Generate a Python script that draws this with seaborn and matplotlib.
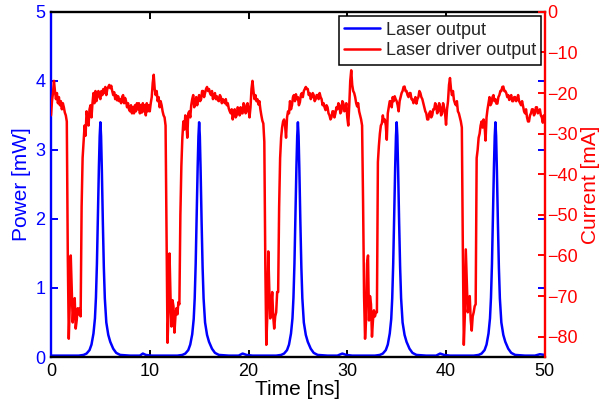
import numpy as np
import matplotlib
matplotlib.use('Agg')
import matplotlib.pyplot as plt
import seaborn as sns

# laser output pulses (time in ns, power in mW)
t_laser = [0.0, 1.0, 2.0, 2.8, 3.3, 3.6, 3.9, 4.1, 4.3, 4.45, 4.55, 4.65, 4.75, 4.85, 4.93,
           5.0, 5.07, 5.15, 5.25, 5.35, 5.45, 5.6, 5.8, 6.0, 6.3, 6.6, 7.0, 8.0, 9.0, 9.3, 9.6, 10.2,
           11.0, 12.0, 12.8, 13.3, 13.6, 13.9, 14.1, 14.3, 14.45, 14.55, 14.65, 14.75, 14.85, 14.93,
           15.0, 15.07, 15.15, 15.25, 15.35, 15.45, 15.6, 15.8, 16.0, 16.3, 16.6, 17.0, 18.0, 19.0, 19.4, 19.8, 20.4,
           21.0, 22.0, 22.8, 23.3, 23.6, 23.9, 24.1, 24.3, 24.45, 24.55, 24.65, 24.75, 24.85, 24.93,
           25.0, 25.07, 25.15, 25.25, 25.35, 25.45, 25.6, 25.8, 26.0, 26.3, 26.6, 27.0, 28.0, 29.0, 29.5, 29.9, 30.5,
           31.0, 32.0, 32.8, 33.3, 33.6, 33.9, 34.1, 34.3, 34.45, 34.55, 34.65, 34.75, 34.85, 34.93,
           35.0, 35.07, 35.15, 35.25, 35.35, 35.45, 35.6, 35.8, 36.0, 36.3, 36.6, 37.0, 38.0, 39.0, 39.4, 39.8, 40.4,
           41.0, 42.0, 42.8, 43.3, 43.6, 43.9, 44.1, 44.3, 44.45, 44.55, 44.65, 44.75, 44.85, 44.93,
           45.0, 45.07, 45.15, 45.25, 45.35, 45.45, 45.6, 45.8, 46.0, 46.3, 46.6, 47.0, 48.0, 49.0, 49.5, 50.0]
p_laser = [0.02, 0.02, 0.02, 0.02, 0.03, 0.05, 0.1, 0.18, 0.34, 0.56, 0.86, 1.35, 2.05, 2.75, 3.2,
           3.4, 3.2, 2.7, 1.95, 1.3, 0.85, 0.5, 0.32, 0.22, 0.12, 0.06, 0.03, 0.02, 0.02, 0.05, 0.03, 0.02,
           0.02, 0.02, 0.02, 0.03, 0.05, 0.1, 0.18, 0.33, 0.55, 0.85, 1.35, 2.05, 2.75, 3.2,
           3.4, 3.2, 2.7, 1.95, 1.3, 0.85, 0.5, 0.32, 0.22, 0.12, 0.06, 0.03, 0.02, 0.02, 0.05, 0.03, 0.02,
           0.02, 0.02, 0.02, 0.03, 0.05, 0.1, 0.18, 0.34, 0.56, 0.86, 1.35, 2.05, 2.75, 3.2,
           3.4, 3.2, 2.7, 1.95, 1.3, 0.85, 0.5, 0.32, 0.22, 0.12, 0.06, 0.03, 0.02, 0.02, 0.05, 0.03, 0.02,
           0.02, 0.02, 0.02, 0.03, 0.05, 0.1, 0.18, 0.34, 0.55, 0.85, 1.35, 2.05, 2.75, 3.2,
           3.4, 3.2, 2.7, 1.95, 1.3, 0.85, 0.5, 0.32, 0.22, 0.12, 0.06, 0.03, 0.02, 0.02, 0.05, 0.03, 0.02,
           0.02, 0.02, 0.02, 0.03, 0.05, 0.1, 0.18, 0.34, 0.56, 0.86, 1.35, 2.05, 2.75, 3.2,
           3.4, 3.2, 2.7, 1.95, 1.3, 0.85, 0.5, 0.32, 0.22, 0.12, 0.06, 0.03, 0.02, 0.02, 0.04, 0.03]

# driver current (mA), sampled every 0.1 ns from 0 to 50 ns
t_driver = np.round(np.arange(501) * 0.1, 1)
i_driver = [
    # 0 - 10 ns
    -25.5, -22.0, -20.0, -17.0, -19.5, -21.5, -20.0, -22.5, -21.0, -23.0,
    -22.0, -24.0, -22.5, -23.5, -24.8, -25.5, -27.0, -60.0, -80.5, -72.0,
    -60.0, -68.0, -76.5, -72.0, -70.5, -78.0, -76.0, -73.0, -74.5, -73.0,
    -75.0, -48.0, -36.0, -32.0, -28.0, -30.5, -24.5, -26.0, -28.0, -24.0,
    -23.0, -26.0, -22.5, -20.0, -22.5, -19.5, -22.0, -20.0, -19.5, -21.0,
    -21.5, -19.5, -20.5, -19.0, -20.0, -18.5, -20.5, -19.0, -18.5, -18.0,
    -18.8, -18.2, -19.5, -20.5, -19.8, -21.5, -20.5, -21.8, -20.8, -22.0,
    -21.5, -22.5, -21.0, -20.5, -22.5, -21.2, -22.0, -23.5, -22.5, -24.0,
    -24.5, -23.0, -25.0, -23.5, -25.0, -23.0, -24.5, -22.5, -24.0, -22.5,
    -25.0, -23.0, -24.8, -22.5, -24.5, -23.0, -25.5, -22.5, -24.5, -23.0,
    # 10 - 20 ns
    -24.5, -22.5, -21.0, -17.5, -15.5, -19.0, -20.5, -19.5, -22.0, -21.0,
    -23.5, -22.0, -23.0, -24.5, -25.5, -26.0, -28.0, -55.0, -81.5, -74.0,
    -59.5, -70.0, -77.5, -71.0, -72.5, -79.0, -75.0, -73.0, -74.5, -71.5,
    -72.0, -50.0, -38.0, -31.0, -27.0, -29.0, -25.5, -27.0, -31.0, -25.0,
    -24.5, -26.0, -23.0, -21.5, -20.5, -23.5, -22.5, -21.0, -23.0, -21.5,
    -20.5, -22.0, -21.5, -19.5, -19.5, -21.0, -20.0, -19.0, -18.5, -19.5,
    -19.0, -20.0, -20.5, -19.5, -21.5, -20.5, -20.0, -21.5, -20.8, -21.8,
    -22.0, -20.5, -21.0, -22.5, -21.5, -22.0, -22.5, -21.5, -23.0, -22.5,
    -23.8, -24.5, -25.0, -24.0, -26.5, -25.0, -24.0, -26.0, -25.5, -23.5,
    -24.0, -25.5, -23.5, -25.0, -25.0, -22.5, -23.0, -25.0, -24.5, -22.5,
    # 20 - 30 ns
    -24.0, -26.0, -23.5, -19.0, -17.0, -19.5, -21.5, -20.5, -22.0, -21.5,
    -22.8, -22.0, -24.0, -25.5, -26.8, -27.5, -32.0, -62.0, -82.0, -75.0,
    -59.0, -68.0, -75.5, -72.0, -69.0, -75.0, -78.0, -75.0, -74.0, -69.0,
    -69.0, -48.0, -36.0, -31.0, -28.5, -27.0, -26.5, -28.0, -31.0, -26.0,
    -24.5, -25.0, -22.0, -24.0, -23.0, -21.0, -20.5, -22.0, -20.3, -21.5,
    -21.0, -23.0, -22.3, -20.5, -20.0, -21.0, -19.5, -19.0, -18.5, -19.0,
    -19.0, -20.5, -20.0, -21.5, -21.0, -20.0, -20.5, -22.0, -21.5, -20.5,
    -20.5, -21.5, -20.0, -21.0, -21.5, -23.0, -22.5, -23.5, -24.2, -23.0,
    -23.5, -25.0, -25.5, -26.5, -26.0, -24.5, -24.5, -26.0, -25.0, -23.5,
    -24.0, -22.5, -23.0, -25.0, -24.5, -22.0, -22.5, -24.5, -24.0, -22.5,
    # 30 - 40 ns
    -26.0, -28.0, -23.0, -17.0, -14.4, -18.0, -19.5, -20.0, -21.0, -22.5,
    -23.3, -22.5, -24.5, -25.5, -26.5, -28.0, -47.0, -70.0, -80.5, -76.0,
    -62.0, -60.0, -76.0, -70.0, -72.0, -80.0, -76.0, -73.5, -75.0, -74.0,
    -74.0, -37.0, -33.0, -30.0, -28.0, -27.5, -25.5, -27.0, -26.5, -28.0,
    -31.5, -25.0, -23.5, -22.0, -22.0, -23.5, -21.0, -22.0, -20.8, -21.5,
    -22.0, -23.0, -24.5, -22.0, -21.0, -20.0, -19.5, -18.5, -18.4, -19.5,
    -19.5, -20.5, -21.0, -20.0, -20.0, -21.5, -21.5, -22.5, -22.0, -21.0,
    -22.6, -21.5, -21.0, -19.5, -20.0, -21.0, -21.5, -22.5, -23.5, -24.5,
    -25.0, -26.5, -26.5, -25.0, -24.5, -26.0, -25.5, -24.0, -24.0, -22.5,
    -23.0, -25.0, -24.5, -22.5, -23.3, -25.5, -25.0, -22.5, -23.5, -25.0,
    # 40 - 50 ns
    -27.8, -24.0, -22.0, -18.0, -16.3, -19.0, -20.5, -19.5, -21.7, -22.5,
    -23.0, -22.0, -24.5, -25.0, -26.0, -27.0, -28.5, -58.0, -82.0, -75.0,
    -58.5, -66.0, -74.0, -72.0, -70.0, -76.0, -78.5, -75.0, -74.0, -72.5,
    -72.0, -36.0, -34.0, -31.0, -30.0, -28.0, -27.0, -28.5, -26.5, -28.0,
    -31.7, -26.0, -24.0, -22.5, -21.0, -23.0, -22.5, -21.0, -20.5, -22.0,
    -21.5, -22.6, -22.6, -21.0, -20.5, -19.5, -19.5, -18.5, -18.4, -19.5,
    -19.5, -20.0, -21.0, -20.5, -21.7, -21.0, -20.5, -22.0, -22.0, -21.0,
    -21.0, -22.0, -21.5, -20.5, -22.0, -22.5, -23.0, -22.0, -23.3, -24.5,
    -25.0, -24.0, -26.0, -27.0, -27.0, -25.5, -25.0, -24.0, -24.0, -25.5,
    -25.0, -23.5, -23.5, -25.0, -24.5, -24.0, -25.5, -26.0, -27.3, -25.5,
    -26.5]

sns.set_theme(style='white')
plt.rcParams['font.family'] = ['Liberation Sans', 'DejaVu Sans']

fig = plt.figure(figsize=(6, 4.08), dpi=100)
ax = fig.add_axes([0.085, 0.125, 0.823, 0.846])
ax2 = ax.twinx()

sns.lineplot(x=t_laser, y=p_laser, ax=ax, color='#0000ff', lw=1.8, legend=False)
sns.lineplot(x=t_driver, y=i_driver, ax=ax2, color='#ff0000', lw=1.8, legend=False)

ax.set_xlim(0, 50)
ax.set_ylim(0, 5)
ax2.set_ylim(-85, 0)
ax.set_xticks([0, 10, 20, 30, 40, 50])
ax.set_yticks([0, 1, 2, 3, 4, 5])
ax2.set_yticks(range(-80, 1, 10))

ax.set_xlabel('Time [ns]', fontsize=15, color='black', labelpad=0)
ax.set_ylabel('Power [mW]', fontsize=15, color='#0000ff', labelpad=3)
ax2.set_ylabel('Current [mA]', fontsize=15, color='#ff0000', labelpad=2)

for s in ['top', 'bottom']:
    ax.spines[s].set_color('black')
    ax.spines[s].set_linewidth(1.7)
ax.spines['left'].set_color('#0000ff')
ax.spines['left'].set_linewidth(1.7)
ax.spines['right'].set_visible(False)
for s in ['left', 'top', 'bottom']:
    ax2.spines[s].set_visible(False)
ax2.spines['right'].set_color('#ff0000')
ax2.spines['right'].set_linewidth(1.7)

ax.tick_params(axis='x', direction='in', top=True, bottom=True, length=5, width=1.4,
               colors='black', labelsize=13, pad=4)
ax.tick_params(axis='y', direction='in', left=True, right=True, length=5, width=1.4,
               colors='#0000ff', labelsize=13, pad=4)
ax2.tick_params(axis='y', direction='in', right=True, left=False, length=5, width=1.4,
                colors='#ff0000', labelsize=13, pad=2)

handles = [ax.get_lines()[0], ax2.get_lines()[0]]
leg = ax2.legend(handles, ['Laser output', 'Laser driver output'], loc='upper right',
                 bbox_to_anchor=(1 - 3.5 / 494, 1 - 4.5 / 345), borderaxespad=0,
                 fontsize=13, frameon=True, fancybox=False, framealpha=1,
                 edgecolor='black', handlelength=2.0,
                 borderpad=0.3, labelspacing=0.2, handletextpad=0.3)
leg.get_frame().set_linewidth(1.1)

fig.savefig('out.png', dpi=100)
